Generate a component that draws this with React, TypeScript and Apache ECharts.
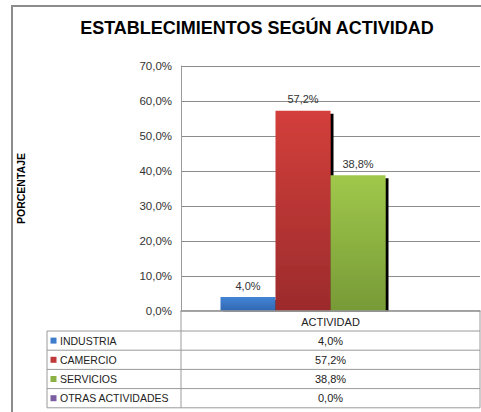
import React, { useEffect, useRef } from "react";
import * as echarts from "echarts";

const categories = ["ACTIVIDAD"];
const seriesNames = ["INDUSTRIA", "CAMERCIO", "SERVICIOS", "OTRAS ACTIVIDADES"];
const seriesValues = [4.0, 57.2, 38.8, 0.0];
const yTicks = { min: 0, max: 70, interval: 10 };
const titleText = "ESTABLECIMIENTOS SEGÚN ACTIVIDAD";
const yAxisName = "PORCENTAJE";

const colorTop = ["#4384d4", "#d33f3b", "#a0c84b", "#8a6cb0"];
const colorBottom = ["#3167b2", "#9c2b2c", "#779a37", "#6a4f8c"];
const keyColor = ["#3f7ccb", "#c0393a", "#8cb043", "#7a5ca0"];

const fmt = (v: number) => v.toFixed(1).replace(".", ",") + "%";

export default function App() {
  const ref = useRef<HTMLDivElement>(null);
  useEffect(() => {
    if (!ref.current) return;
    const chart = echarts.init(ref.current, null, { renderer: "svg" });
    const gridLeft = 181;
    const gridRight = 480;
    const gridTop = 66;
    const gridBottom = 311;
    const font = "'Liberation Sans', Arial, sans-serif";
    const lineColor = "#9a9a9a";

    const headerBottom = 331;
    const rowH = 19.2;
    const tableLeft = 47;
    const graphics: any[] = [];
    graphics.push({
      type: "rect",
      shape: { x: 12, y: 6, width: 500, height: 430 },
      style: { fill: "none", stroke: "#8c8c8c", lineWidth: 2 },
      silent: true,
    });
    // hide shadow spill below the axis, then redraw the axis line
    graphics.push({
      type: "rect",
      z: 50,
      shape: { x: gridLeft + 1, y: gridBottom + 0.5, width: gridRight - gridLeft - 2, height: 4 },
      style: { fill: "#fff" },
    });
    graphics.push({
      type: "line",
      z: 51,
      shape: { x1: gridLeft, y1: gridBottom, x2: gridRight, y2: gridBottom },
      style: { stroke: lineColor, lineWidth: 1.5 },
    });
    graphics.push({
      type: "line",
      shape: { x1: gridLeft, y1: gridBottom, x2: gridLeft, y2: headerBottom + rowH * seriesNames.length },
      style: { stroke: lineColor, lineWidth: 1 },
    });
    graphics.push({
      type: "line",
      shape: { x1: gridRight, y1: gridBottom, x2: gridRight, y2: headerBottom + rowH * seriesNames.length },
      style: { stroke: lineColor, lineWidth: 1 },
    });
    graphics.push({
      type: "line",
      shape: { x1: tableLeft, y1: headerBottom, x2: tableLeft, y2: headerBottom + rowH * seriesNames.length },
      style: { stroke: lineColor, lineWidth: 1 },
    });
    for (let i = 0; i <= seriesNames.length; i++) {
      const y = headerBottom + rowH * i;
      graphics.push({
        type: "line",
        shape: { x1: tableLeft, y1: y, x2: gridRight, y2: y },
        style: { stroke: lineColor, lineWidth: 1 },
      });
    }
    seriesNames.forEach((name, i) => {
      const cy = headerBottom + rowH * i + rowH / 2;
      graphics.push({
        type: "rect",
        shape: { x: 50.5, y: cy - 3, width: 6, height: 6 },
        style: { fill: keyColor[i] },
      });
      graphics.push({
        type: "text",
        x: 60,
        y: cy,
        style: {
          text: name,
          font: `10.5px ${font}`,
          fill: "#222",
          verticalAlign: "middle",
          align: "left",
        },
      });
      graphics.push({
        type: "text",
        x: (gridLeft + gridRight) / 2,
        y: cy,
        style: {
          text: fmt(seriesValues[i]),
          font: `11px ${font}`,
          fill: "#222",
          verticalAlign: "middle",
          align: "center",
        },
      });
    });

    const series = seriesNames.map((name, i) => ({
      name,
      type: "bar",
      barWidth: 55,
      barGap: "0%",
      data: [seriesValues[i]],
      itemStyle: {
        color: new echarts.graphic.LinearGradient(0, 0, 0, 1, [
          { offset: 0, color: colorTop[i] },
          { offset: 1, color: colorBottom[i] },
        ]),
        shadowColor: "rgba(0,0,0,1)",
        shadowBlur: 0,
        shadowOffsetX: 3,
        shadowOffsetY: 3,
      },
      label: {
        show: true,
        position: "top",
        distance: 6,
        fontSize: 11,
        fontFamily: font,
        color: "#333",
        formatter: (p: any) => (p.value === 0 ? "" : fmt(p.value)),
      },
    }));

    chart.setOption({
      animation: false,
      backgroundColor: "#fff",
      title: {
        text: titleText,
        left: 252,
        textAlign: "center",
        top: 14,
        textStyle: { fontSize: 18, fontWeight: "bold", fontFamily: font, color: "#000" },
      },
      grid: {
        left: gridLeft,
        top: gridTop,
        width: gridRight - gridLeft,
        height: gridBottom - gridTop,
      },
      xAxis: {
        type: "category",
        data: categories,
        axisLine: { show: true, lineStyle: { color: lineColor, width: 1.5 } },
        axisTick: { show: false },
        axisLabel: { fontSize: 11, fontFamily: font, color: "#222", margin: 5 },
      },
      yAxis: {
        type: "value",
        min: yTicks.min,
        max: yTicks.max,
        interval: yTicks.interval,
        axisLine: { show: true, lineStyle: { color: lineColor } },
        axisTick: { show: false },
        splitLine: { lineStyle: { color: "#8c8c8c", width: 1 } },
        axisLabel: {
          fontSize: 11.5,
          fontFamily: font,
          color: "#333",
          margin: 9,
          formatter: (v: number) => fmt(v),
        },
        name: yAxisName,
        nameLocation: "middle",
        nameRotate: 90,
        nameGap: 155,
        nameTextStyle: { fontSize: 10.5, fontWeight: "bold", fontFamily: font, color: "#000" },
      },
      series,
      graphic: graphics,
    });
    return () => chart.dispose();
  }, []);
  return (
    <div
      ref={ref}
      style={{ position: "fixed", left: 0, top: 0, width: 481, height: 412 }}
    />
  );
}
